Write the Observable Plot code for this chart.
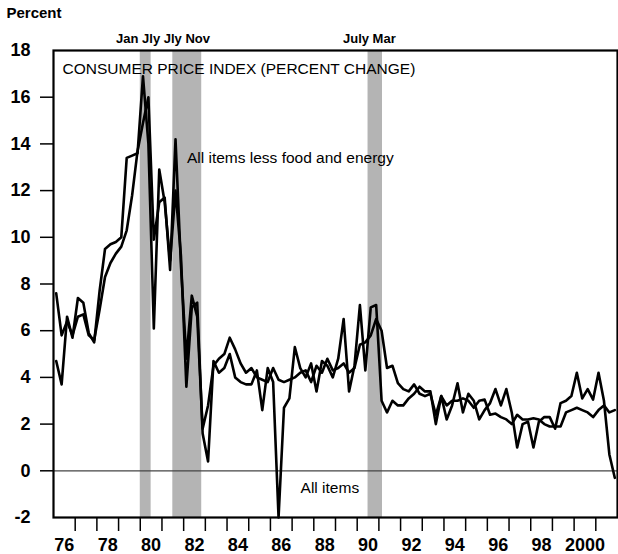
<!DOCTYPE html>
<html><head><meta charset="utf-8">
<script src="https://cdn.jsdelivr.net/npm/d3@7"></script>
<script src="https://cdn.jsdelivr.net/npm/@observablehq/plot@0.6"></script>
<style>
body{margin:0;background:#fff;}
#chart{position:relative;width:618px;height:554px;overflow:hidden;}
</style></head><body><div id="chart"></div>
<script>
// Quarterly, annualized percent change, 1976Q1 - 2001Q4
const startYear = 1976;
const allItems = [
  4.7, 3.7, 6.6, 5.7,   7.4, 7.2, 5.9, 5.5,   7.7, 9.5, 9.7, 9.8,   10.0, 13.4, 13.5, 13.6,
  16.9, 14.0, 6.1, 12.9, 11.5, 9.0, 12.0, 9.2, 3.6, 7.0, 7.2, 1.6,  0.4, 4.7, 4.2, 4.4,
  5.0, 4.0, 3.8, 3.7,   3.7, 4.3, 2.6, 4.4,   3.8, -2.0, 2.7, 3.1,  5.3, 4.4, 4.0, 4.6,
  3.4, 4.7, 4.5, 4.0,   4.8, 6.5, 3.4, 4.5,   7.1, 4.3, 7.0, 7.1,   3.0, 2.5, 3.0, 2.8,
  2.8, 3.1, 3.3, 3.6,   3.4, 3.4, 2.0, 3.2,   2.2, 2.8, 3.75, 2.5,  3.3, 3.0, 2.2, 2.6,
  2.9, 3.5, 2.8, 3.5,   2.5, 1.0, 2.0, 2.1,   1.0, 2.1, 2.3, 2.3,   1.8, 2.9, 3.0, 3.2,
  4.2, 3.1, 3.5, 3.05,  4.2, 3.0, 0.7, -0.3
];
const coreItems = [
  7.6, 5.8, 6.4, 5.8,   6.6, 6.7, 5.8, 5.6,   6.9, 8.3, 8.9, 9.3,   9.6, 10.3, 11.8, 13.7,
  14.9, 16.0, 9.9, 11.5, 11.7, 8.6, 14.2, 8.8, 4.8, 7.5, 6.6, 1.8,  2.8, 4.5, 4.8, 5.0,
  5.7, 5.2, 4.6, 4.2,   4.4, 4.0, 3.9, 3.8,   4.4, 3.9, 3.8, 3.9,   4.0, 4.2, 4.3, 3.8,
  4.5, 4.2, 4.8, 4.3,   4.4, 4.6, 4.2, 4.4,   5.4, 5.5, 5.8, 6.5,   6.0, 4.4, 4.5, 3.75,
  3.5, 3.4, 3.7, 3.3,   3.2, 3.3, 2.4, 3.2,   2.8, 3.0, 3.0, 3.1,   3.0, 2.7, 3.0, 3.05,
  2.4, 2.45, 2.3, 2.2,  2.0, 2.4, 2.2, 2.2,   2.25, 2.2, 2.0, 1.9,  1.9, 1.9, 2.5, 2.6,
  2.7, 2.6, 2.5, 2.3,   2.6, 2.8, 2.5, 2.6
];
const seriesNames = ["All items", "All items less food and energy"];
const recessionStarts = [1980.0, 1981.5, 1990.5];
const recessionEnds = [1980.5, 1982.833, 1991.167];
const recessionLabelTexts = ["Jan Jly Jly Nov", "July Mar"];
const recessionLabelYears = [1981.05, 1990.56];
const yTickValues = [-2, 0, 2, 4, 6, 8, 10, 12, 14, 16, 18];
const xLabelYears = [1976, 1978, 1980, 1982, 1984, 1986, 1988, 1990, 1992, 1994, 1996, 1998, 2000];
const xLabelTexts = ["76", "78", "80", "82", "84", "86", "88", "90", "92", "94", "96", "98", "2000"];
const chartTitle = "CONSUMER PRICE INDEX (PERCENT CHANGE)";
const yUnit = "Percent";
// annotation anchors (year, value)
const annotations = [
  {text: "All items less food and energy", year: 1982.15, value: 13.4, anchor: "start"},
  {text: "All items", year: 1988.74, value: -0.72, anchor: "middle"}
];

const rows = [];
allItems.forEach((v, i) => rows.push({t: startYear + i / 4 + 0.125, v, series: seriesNames[0]}));
coreItems.forEach((v, i) => rows.push({t: startYear + i / 4 + 0.125, v, series: seriesNames[1]}));
const recessions = recessionStarts.map((s, i) => ({start: s, end: recessionEnds[i]}));
const recLabels = recessionLabelTexts.map((t, i) => ({text: t, year: recessionLabelYears[i], value: 18.5}));
const xLabelMap = new Map(xLabelYears.map((y, i) => [y + 0.5, xLabelTexts[i]]));

const font = "'Liberation Sans', Arial, Helvetica, sans-serif";
const plot = Plot.plot({
  width: 618, height: 554,
  marginLeft: 53, marginRight: 1, marginTop: 50, marginBottom: 37,
  x: {domain: [1976, 2002]},
  y: {domain: [-2, 18]},
  style: {fontFamily: font, background: "transparent", color: "#000"},
  marks: [
    Plot.rect(recessions, {x1: "start", x2: "end", y1: -2, y2: 18, fill: "#b4b4b4"}),
    Plot.ruleY([0], {stroke: "#444", strokeWidth: 1.2}),
    Plot.line(rows, {x: "t", y: "v", z: "series", stroke: "#000", strokeWidth: 2.6, strokeLinejoin: "round"}),
    Plot.frame({stroke: "#000", strokeWidth: 2.2}),
    Plot.axisY({ticks: yTickValues.filter(d => d > -2 && d < 18), tickSize: 13, tickFormat: () => "", strokeWidth: 1.5, label: null}),
    Plot.axisY({ticks: yTickValues, tickSize: 0, tickPadding: 23, tickFormat: d => String(d), fontWeight: "bold", fontSize: 18, label: null}),
    Plot.axisX({ticks: d3.range(1977, 2002), tickSize: 14, tickFormat: () => "", strokeWidth: 1.5, label: null}),
    Plot.axisX({ticks: [...xLabelMap.keys()], tickSize: 0, tickPadding: 21, tickFormat: d => xLabelMap.get(d), fontWeight: "bold", fontSize: 18, label: null}),
    Plot.text([chartTitle], {frameAnchor: "top-left", dx: 9, dy: 12, textAnchor: "start", lineAnchor: "top", fontSize: 15.5, fill: "#000"}),
    Plot.text([yUnit], {frameAnchor: "top-left", dx: -47, dy: -37, textAnchor: "start", lineAnchor: "middle", fontSize: 15, fontWeight: "bold", fill: "#000"}),
    Plot.text(recLabels, {x: "year", y: "value", text: "text", fontSize: 13, fontWeight: "bold", fill: "#000"}),
    Plot.text(annotations, {x: "year", y: "value", text: "text", textAnchor: "start", fontSize: 15.5, fill: "#000", filter: d => d.anchor === "start"}),
    Plot.text(annotations, {x: "year", y: "value", text: "text", textAnchor: "middle", fontSize: 15.5, fill: "#000", filter: d => d.anchor === "middle"})
  ]
});
document.getElementById("chart").appendChild(plot);
</script></body></html>
